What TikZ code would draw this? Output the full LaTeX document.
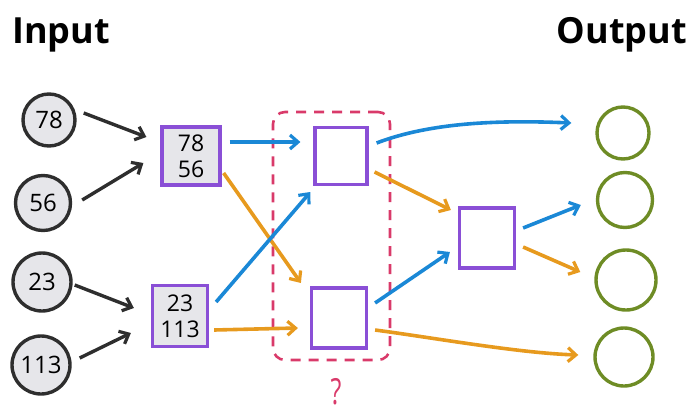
\documentclass[tikz,border=0pt]{standalone}
\usepackage{fontspec}
\setmainfont{Open Sans}
\usetikzlibrary{arrows.meta,calc}
\definecolor{cblue}{HTML}{1A88D6}
\definecolor{corange}{HTML}{E79A1E}
\definecolor{cpurple}{HTML}{8A4FD6}
\definecolor{cgreen}{HTML}{6E8C25}
\definecolor{cdark}{HTML}{2E2E2E}
\definecolor{cpink}{HTML}{D93A6A}
\definecolor{cfill}{HTML}{E6E6EA}
\begin{document}
\begin{tikzpicture}[x=1pt,y=-1pt,
  inp/.style={circle,draw=cdark,line width=3.4pt,fill=cfill,inner sep=0pt,font=\fontsize{24}{24}\selectfont},
  inbox/.style={rectangle,draw=cpurple,line width=3.2pt,fill=cfill,inner sep=0pt,align=center,font=\fontsize{23}{26}\selectfont},
  hid/.style={rectangle,draw=cpurple,line width=3.2pt,fill=white,inner sep=0pt},
  outc/.style={circle,draw=cgreen,line width=3.4pt,inner sep=0pt},
  title/.style={font=\fontsize{36}{36}\selectfont\bfseries,inner sep=0pt},
  tip/.style={-{Straight Barb[length=8pt,width=14pt,line width=3.2pt]}},
  darr/.style={draw=cdark,line width=3.4pt,tip},
  barr/.style={draw=cblue,line width=3.6pt,tip},
  oarr/.style={draw=corange,line width=3.6pt,tip},
]
\useasboundingbox (0,0) rectangle (692,415);
\node[title,anchor=base west] (tin) at (12,43) {Input};
\node[title,anchor=base east] (tout) at (687,43) {Output};

\node[inp,minimum size=52pt] (i1) at (49,120) {78};
\node[inp,minimum size=55pt] (i2) at (43,203) {56};
\node[inp,minimum size=58pt] (i3) at (42,282) {23};
\node[inp,minimum size=58pt] (i4) at (41,365) {113};

\node[inbox,minimum width=58pt,minimum height=58pt] (b1) at (191,156) {78\\56};
\node[inbox,minimum width=55pt,minimum height=61pt] (b2) at (180,316) {23\\113};

\node[draw=cpink,line width=2.6pt,dash pattern=on 10pt off 8pt,rounded corners=12pt,minimum width=117pt,minimum height=248pt,inner sep=0pt] (grp) at (331.5,236) {};
\node[hid,minimum width=52pt,minimum height=57pt] (h1) at (341,156) {};
\node[hid,minimum width=55pt,minimum height=60pt] (h2) at (339,318) {};
\node[hid,minimum width=55pt,minimum height=60pt] (h3) at (487,238) {};
\node[text=cpink,font=\fontsize{36}{36}\selectfont,inner sep=0pt,anchor=base,xscale=0.7,transform shape] (q) at (336,404) {?};

\node[outc,minimum size=52pt] (o1) at (623,133) {};
\node[outc,minimum size=55pt] (o2) at (625,200) {};
\node[outc,minimum size=60pt] (o3) at (626,280) {};
\node[outc,minimum size=58pt] (o4) at (624,357) {};

\draw[darr] ($(i1.east)+(7,-7)$) -- ($(b1.west)+(-14,-19)$);
\draw[darr] ($(i2.east)+(10,-3)$) -- ($(b1.west)+(-17,7)$);
\draw[darr] ($(i3.east)+(2,3)$) -- ($(b2.west)+(-17,-8)$);
\draw[darr] ($(i4.east)+(8,-7)$) -- ($(b2.west)+(-20,17)$);

\draw[barr] ($(b1.east)+(8,-14)$) -- ($(h1.west)+(-13,-14)$);
\draw[oarr] ($(b1.east)+(2,17)$) -- ($(h2.west)+(-9,-35)$);
\draw[barr] ($(b2.east)+(7,-14)$) -- ($(h1.west)+(-3,36)$);
\draw[oarr] ($(b2.east)+(5,14)$) -- ($(h2.west)+(-12,10)$);

\draw[barr] ($(h1.east)+(8,-13)$) .. controls +(55,-21) and +(-70,-3) .. ($(o1.west)+(-24,-10)$);
\draw[oarr] ($(h1.east)+(6,16)$) -- ($(h3.west)+(-7,-28)$);
\draw[barr] ($(h2.east)+(7,-15)$) -- ($(h3.west)+(-8,14)$);
\draw[oarr] ($(h2.east)+(7,12)$) .. controls +(60,8) and +(-60,-2) .. ($(o4.west)+(-15,-2)$);

\draw[barr] ($(h3.east)+(7,-10)$) -- ($(o2.west)+(-15,5)$);
\draw[oarr] ($(h3.east)+(7,9)$) -- ($(o3.west)+(-14,-8)$);
\end{tikzpicture}
\end{document}
